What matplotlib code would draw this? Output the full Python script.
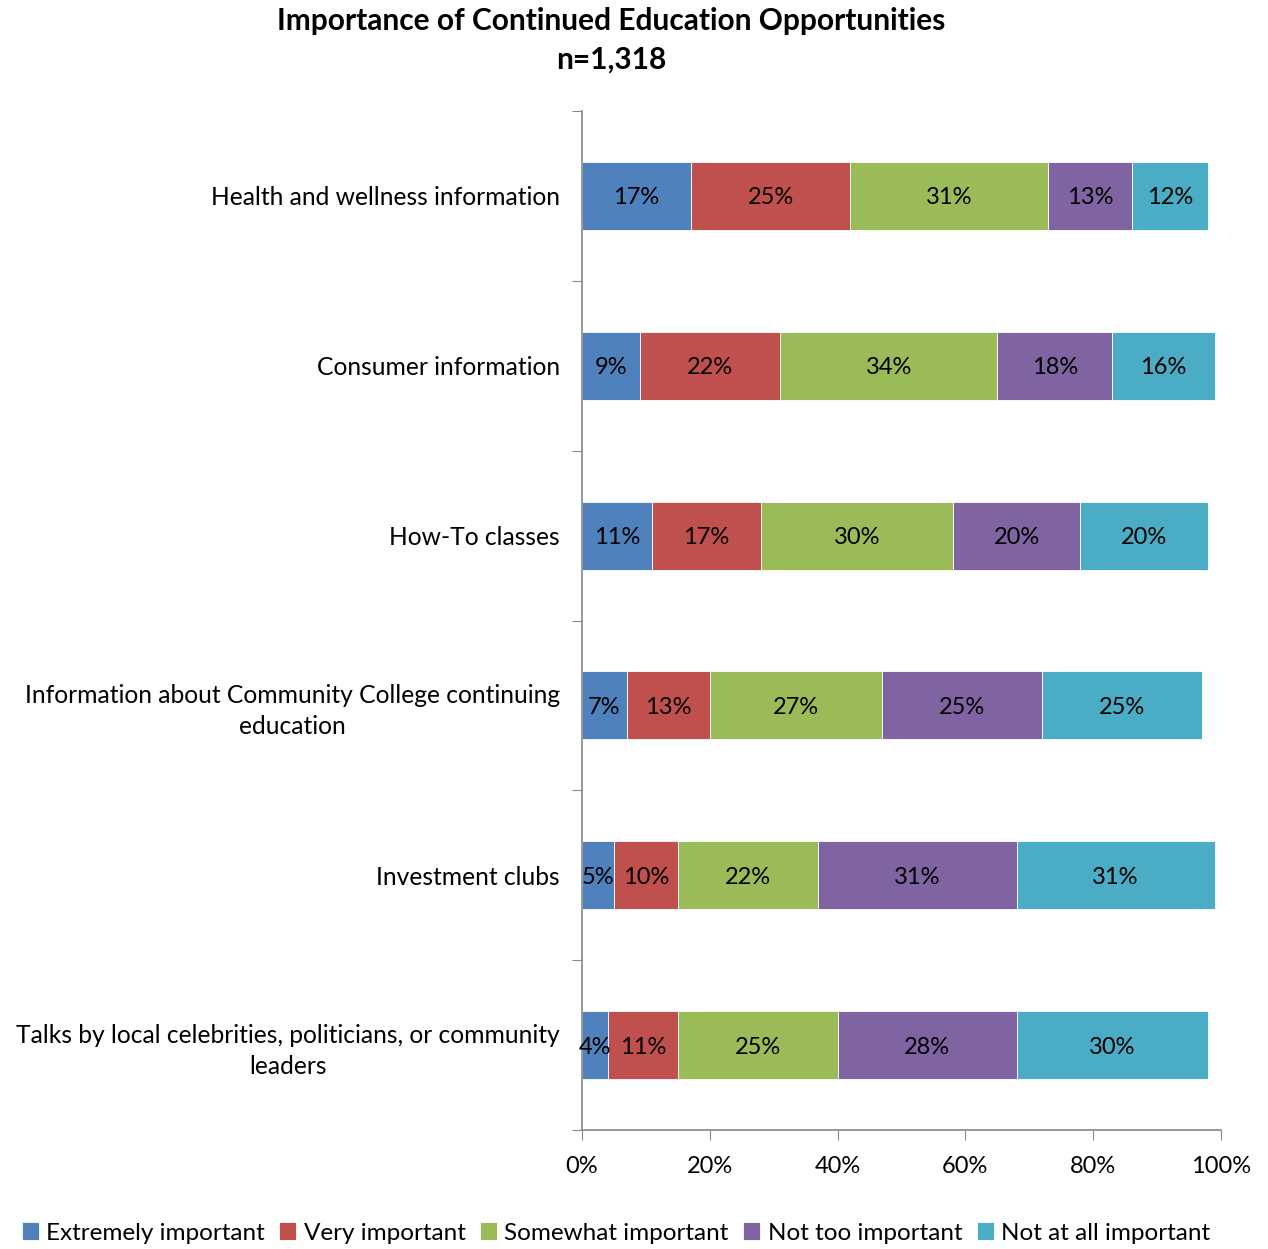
import matplotlib
matplotlib.use("Agg")
import matplotlib.pyplot as plt
import numpy as np

plt.rcParams['font.family'] = ['Lato', 'DejaVu Sans']

categories = [
    "Health and wellness information",
    "Consumer information",
    "How-To classes",
    "Information about Community College continuing\neducation",
    "Investment clubs",
    "Talks by local celebrities, politicians, or community\nleaders",
]
series_names = ["Extremely important", "Very important", "Somewhat important",
                "Not too important", "Not at all important"]
extremely = [17, 9, 11, 7, 5, 4]
very = [25, 22, 17, 13, 10, 11]
somewhat = [31, 34, 30, 27, 22, 25]
not_too = [13, 18, 20, 25, 31, 28]
not_at_all = [12, 16, 20, 25, 31, 30]
colors = ["#4F81BD", "#C0504D", "#9BBB59", "#8064A2", "#4BACC6"]
x_ticks = [0, 20, 40, 60, 80, 100]

series = [extremely, very, somewhat, not_too, not_at_all]

fig = plt.figure(figsize=(12.68, 12.49), dpi=100)
ax = fig.add_axes([582 / 1268, 1 - 1130 / 1249, (1221 - 582) / 1268, (1130 - 111) / 1249])

y = np.arange(len(categories))[::-1]
left = np.zeros(len(categories))
for vals, col, name in zip(series, colors, series_names):
    vals = np.array(vals, dtype=float)
    ax.barh(y, vals, left=left, height=0.4, color=col, edgecolor="white",
            linewidth=0.6, label=name)
    for yi, l, v in zip(y, left, vals):
        ax.text(l + v / 2, yi - 0.012, f"{int(v)}%", ha="center", va="center",
                fontsize=17, color="black")
    left += vals

ax.set_xlim(0, 100)
ax.set_ylim(-0.5, len(categories) - 0.5)
ax.set_xticks(x_ticks)
ax.set_xticklabels([f"{t}%" for t in x_ticks], fontsize=17)
ax.set_yticks(np.arange(-0.5, len(categories), 1.0))
ax.set_yticklabels([])
ax.set_yticks(y, minor=True)
ax.set_yticklabels(categories, minor=True, fontsize=17.7)
for lab in ax.get_yticklabels(minor=True):
    lab.set_horizontalalignment("right")
    lab.set_multialignment("center")
    lab.set_linespacing(1.4)
ax.tick_params(axis="y", which="minor", length=0, pad=16)
ax.tick_params(axis="y", which="major", length=7, color="#888888", direction="out")
ax.tick_params(axis="x", length=7, color="#888888", direction="out", pad=12)

for s in ["top", "right"]:
    ax.spines[s].set_visible(False)
for s in ["left", "bottom"]:
    ax.spines[s].set_color("#888888")
    ax.spines[s].set_linewidth(1.2)

fig.text(611 / 1268, 1 - 21 / 1249, "Importance of Continued Education Opportunities",
         ha="center", va="center", fontsize=21.5, fontweight="bold")
fig.text(611 / 1268, 1 - 60 / 1249, "n=1,318",
         ha="center", va="center", fontsize=21.5, fontweight="bold")

handles, labels = ax.get_legend_handles_labels()
fig.legend(handles, labels, loc="center", bbox_to_anchor=(616 / 1268, 1 - 1233 / 1249),
           ncol=5, frameon=False, fontsize=17.5, handlelength=0.7, handleheight=0.7,
           handletextpad=0.3, columnspacing=0.6, borderaxespad=0)

fig.savefig("out.png", dpi=100)
